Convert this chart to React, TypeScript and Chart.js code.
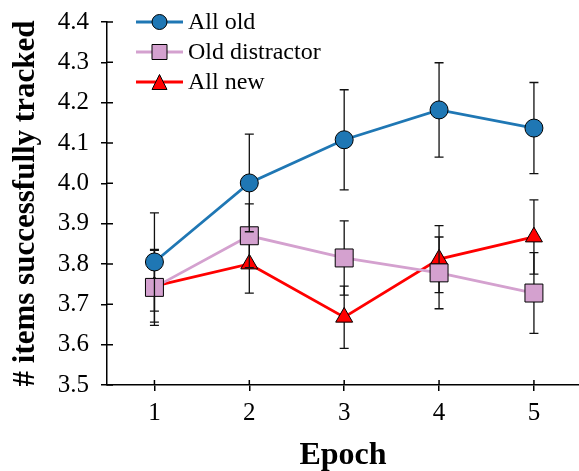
import React, { useEffect, useRef } from "react";
import { Chart, registerables } from "chart.js";

Chart.register(...registerables);

const epochs = [1, 2, 3, 4, 5];
const seriesLabels = ["All old", "Old distractor", "All new"];
const allOld = [3.805, 4.001, 4.108, 4.182, 4.137];
const allOldErr = [0.122, 0.121, 0.124, 0.117, 0.113];
const oldDistractor = [3.742, 3.87, 3.815, 3.778, 3.728];
const oldDistractorErr = [0.094, 0.079, 0.092, 0.089, 0.1];
const allNew = [3.745, 3.8, 3.668, 3.812, 3.867];
const allNewErr = [0.089, 0.072, 0.077, 0.083, 0.092];
const yTicks = [3.5, 3.6, 3.7, 3.8, 3.9, 4.0, 4.1, 4.2, 4.3, 4.4];
const xTicks = [1, 2, 3, 4, 5];

const FONT = "'Liberation Serif', 'Times New Roman', serif";
const colors = ["#1f77b4", "#d4a1cf", "#ff0000"];
const pointStyles = ["circle", "rect", "triangle"];
const pointRadii = [9, 12.7, 9.8];
const errs = [allOldErr, oldDistractorErr, allNewErr];

function drawMarker(ctx: CanvasRenderingContext2D, style: string, x: number, y: number, size: number, fill: string) {
  ctx.save();
  ctx.fillStyle = fill;
  ctx.strokeStyle = "#000";
  ctx.lineWidth = 1;
  ctx.beginPath();
  if (style === "circle") {
    ctx.arc(x, y, size / 2, 0, Math.PI * 2);
  } else if (style === "rect") {
    ctx.rect(x - size / 2, y - size / 2, size, size);
  } else {
    ctx.moveTo(x, y - size / 2);
    ctx.lineTo(x + size / 2, y + size / 2);
    ctx.lineTo(x - size / 2, y + size / 2);
    ctx.closePath();
  }
  ctx.fill();
  ctx.stroke();
  ctx.restore();
}

const errorBarPlugin = {
  id: "errorBars",
  beforeDatasetDraw(chart: any, args: any) {
    const i = args.index;
    const ds = chart.data.datasets[i];
    const e = errs[i];
    const xs = chart.scales.x;
    const ys = chart.scales.y;
    const ctx = chart.ctx;
    ctx.save();
    ctx.strokeStyle = "#111";
    ctx.lineWidth = 1.3;
    ds.data.forEach((p: any, j: number) => {
      const x = xs.getPixelForValue(p.x);
      const yt = ys.getPixelForValue(p.y + e[j]);
      const yb = ys.getPixelForValue(p.y - e[j]);
      ctx.beginPath();
      ctx.moveTo(x, yt);
      ctx.lineTo(x, yb);
      ctx.moveTo(x - 4.5, yt);
      ctx.lineTo(x + 4.5, yt);
      ctx.moveTo(x - 4.5, yb);
      ctx.lineTo(x + 4.5, yb);
      ctx.stroke();
    });
    ctx.restore();
  },
};

const innerTicksPlugin = {
  id: "innerTicks",
  afterDraw(chart: any) {
    const { ctx, chartArea } = chart;
    const xs = chart.scales.x;
    const ys = chart.scales.y;
    ctx.save();
    ctx.strokeStyle = "#000";
    ctx.lineWidth = 1.5;
    ctx.beginPath();
    yTicks.forEach((v) => {
      const y = ys.getPixelForValue(v);
      ctx.moveTo(chartArea.left, y);
      ctx.lineTo(chartArea.left + 6, y);
    });
    xTicks.forEach((v) => {
      const x = xs.getPixelForValue(v);
      ctx.moveTo(x, chartArea.bottom);
      ctx.lineTo(x, chartArea.bottom - 5);
    });
    ctx.stroke();
    ctx.restore();
  },
};

const legendPlugin = {
  id: "customLegend",
  afterDraw(chart: any) {
    const ctx = chart.ctx;
    ctx.save();
    chart.data.datasets.forEach((ds: any, i: number) => {
      const y = 22 + i * 30;
      ctx.strokeStyle = ds.borderColor;
      ctx.lineWidth = 2.8;
      ctx.beginPath();
      ctx.moveTo(136, y);
      ctx.lineTo(183, y);
      ctx.stroke();
      drawMarker(ctx, pointStyles[i], 159.5, y, 15, ds.backgroundColor);
      ctx.fillStyle = "#000";
      ctx.font = `24px ${FONT}`;
      ctx.textBaseline = "middle";
      ctx.textAlign = "left";
      ctx.fillText(ds.label, 188, y + 1);
    });
    ctx.restore();
  },
};

export default function App() {
  const ref = useRef<HTMLCanvasElement | null>(null);
  useEffect(() => {
    document.body.style.margin = "0";
    const series = [allOld, oldDistractor, allNew];
    const chart = new Chart(ref.current as HTMLCanvasElement, {
      type: "line",
      data: {
        datasets: series.map((vals, i) => ({
          label: seriesLabels[i],
          data: epochs.map((x, j) => ({ x, y: vals[j] })),
          borderColor: colors[i],
          backgroundColor: colors[i],
          borderWidth: 2.8,
          pointStyle: pointStyles[i] as any,
          pointRadius: pointRadii[i],
          pointBorderColor: "#000",
          pointBorderWidth: 1,
          pointBackgroundColor: colors[i],
          tension: 0,
          fill: false,
        })),
      },
      options: {
        animation: false,
        responsive: false,
        layout: { autoPadding: false, padding: { top: 22, right: 0, left: 0, bottom: 0 } },
        plugins: { legend: { display: false }, tooltip: { enabled: false } },
        scales: {
          x: {
            type: "linear",
            min: 0.5,
            max: 5.475,
            afterBuildTicks: (s: any) => {
              s.ticks = xTicks.map((value) => ({ value }));
            },
            afterFit: (s: any) => {
              s.height = 86;
              s.paddingLeft = 0;
              s.paddingRight = 0;
            },
            ticks: {
              font: { family: FONT, size: 25 },
              color: "#000",
              padding: 7,
              callback: (v: any) => String(v),
            },
            grid: { drawOnChartArea: false, tickLength: 6, color: "#000", lineWidth: 1.5 },
            border: { color: "#000", width: 1.5 },
            title: {
              display: true,
              text: "Epoch",
              font: { family: FONT, size: 32, weight: "bold" },
              color: "#000",
              padding: { top: 0, bottom: -4 },
            },
          },
          y: {
            type: "linear",
            min: 3.5,
            max: 4.4,
            afterBuildTicks: (s: any) => {
              s.ticks = yTicks.map((value) => ({ value }));
            },
            afterFit: (s: any) => {
              s.width = 107;
              s.paddingTop = 0;
              s.paddingBottom = 0;
            },
            ticks: {
              font: { family: FONT, size: 25 },
              color: "#000",
              padding: 12,
              callback: (v: any) => Number(v).toFixed(1),
            },
            grid: { drawOnChartArea: false, tickLength: 6, color: "#000", lineWidth: 1.5 },
            border: { color: "#000", width: 1.5 },
            title: {
              display: true,
              text: "# items successfully tracked",
              font: { family: FONT, size: 31, weight: "bold" },
              color: "#000",
              padding: { top: 7, bottom: 0 },
            },
          },
        },
      },
      plugins: [errorBarPlugin, innerTicksPlugin, legendPlugin],
    });
    return () => chart.destroy();
  }, []);
  return (
    <div style={{ position: "absolute", left: 0, top: 0, width: 579, height: 471 }}>
      <canvas ref={ref} width={579} height={471} />
    </div>
  );
}
